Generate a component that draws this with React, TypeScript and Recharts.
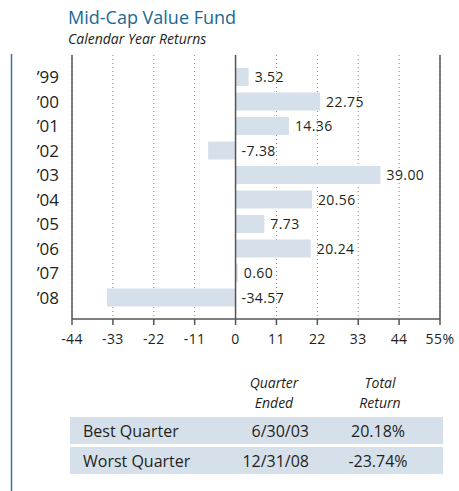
import React from 'react';
import { BarChart, Bar, XAxis, YAxis, CartesianGrid, ReferenceLine, LabelList } from 'recharts';

const years = ['’99', '’00', '’01', '’02', '’03', '’04', '’05', '’06', '’07', '’08'];
const returns = [3.52, 22.75, 14.36, -7.38, 39.0, 20.56, 7.73, 20.24, 0.6, -34.57];
const xTicks = [-44, -33, -22, -11, 0, 11, 22, 33, 44, 55];
const quarterLabels = ['Best Quarter', 'Worst Quarter'];
const quarterDates = ['6/30/03', '12/31/08'];
const quarterReturns = ['20.18%', '-23.74%'];

const data = years.map((y, i) => ({ year: y, value: returns[i] }));

const FONT = '"Open Sans", sans-serif';
const TEXT = '#231f20';
const BAR = '#d6e0ea';
const LINE = '#555555';

const ValueLabel = (props: any) => {
  const { x, y, width, height, value } = props;
  const right = Math.max(x, x + width);
  return (
    <text x={right + 6} y={y + height / 2 + 5} fontSize={14} letterSpacing={0.4} fill={TEXT} fontFamily={FONT}>
      {Number(value).toFixed(2)}
    </text>
  );
};

export default function App() {
  return (
    <div style={{ position: 'absolute', left: 0, top: 0, width: 459, height: 491, background: '#fff', fontFamily: FONT }}>
      <div style={{ position: 'absolute', left: 0, top: 0 }}>
        <BarChart
          width={459}
          height={360}
          data={data}
          layout="vertical"
          margin={{ top: 55, right: 19, left: 0, bottom: 0 }}
          barCategoryGap={0}
        >
          <CartesianGrid horizontal={false} vertical stroke="#888" strokeDasharray="1 3" />
          <XAxis
            type="number"
            dataKey="value"
            domain={[-44, 55]}
            ticks={xTicks}
            interval={0}
            tickFormatter={(v: number) => (v === 55 ? '55%' : String(v))}
            tick={{ fontSize: 14, fill: TEXT, fontFamily: FONT, letterSpacing: 0.4 }}
            tickSize={6}
            tickMargin={9}
            axisLine={{ stroke: LINE, strokeWidth: 1.5 }}
            tickLine={{ stroke: LINE, strokeWidth: 1.5 }}
            height={41}
            allowDataOverflow
          />
          <XAxis
            xAxisId="top"
            type="number"
            orientation="top"
            domain={[-44, 55]}
            tick={false}
            tickLine={false}
            axisLine={{ stroke: LINE, strokeWidth: 1.5 }}
            height={0}
          />
          <YAxis
            type="category"
            dataKey="year"
            width={72}
            tickLine={false}
            axisLine={{ stroke: LINE, strokeWidth: 1.5 }}
            tick={{ fontSize: 17, fill: TEXT, fontFamily: FONT }}
            tickMargin={7}
            padding={{ top: 10, bottom: 9 }}
            interval={0}
          />
          <ReferenceLine x={55} stroke={LINE} strokeWidth={1.5} />
          <ReferenceLine x={0} stroke={LINE} strokeWidth={1.5} />
          <Bar dataKey="value" fill={BAR} barSize={18} isAnimationActive={false}>
            <LabelList dataKey="value" content={ValueLabel} />
          </Bar>
        </BarChart>
      </div>
      <svg width={459} height={491} style={{ position: 'absolute', left: 0, top: 0, pointerEvents: 'none' }}>
        <line x1={11.5} y1={54} x2={11.5} y2={491} stroke="#3d6fa0" strokeWidth={1.5} />
        <text x={68} y={24} fontSize={18} fill="#1b6894" fontFamily={FONT}>Mid-Cap Value Fund</text>
        <text x={68} y={44} fontSize={14} fontStyle="italic" fill={TEXT} fontFamily={FONT}>Calendar Year Returns</text>
        <text x={274} y={388} fontSize={14} fontStyle="italic" fill={TEXT} fontFamily={FONT} textAnchor="middle">Quarter</text>
        <text x={274} y={408} fontSize={14} fontStyle="italic" fill={TEXT} fontFamily={FONT} textAnchor="middle">Ended</text>
        <text x={380} y={388} fontSize={14} fontStyle="italic" fill={TEXT} fontFamily={FONT} textAnchor="middle">Total</text>
        <text x={380} y={408} fontSize={14} fontStyle="italic" fill={TEXT} fontFamily={FONT} textAnchor="middle">Return</text>
        {quarterLabels.map((label, i) => {
          const top = 417 + i * 30;
          return (
            <g key={label}>
              <rect x={70} y={top} width={373} height={27} fill={BAR} />
              <text x={83} y={top + 20} fontSize={16} fill={TEXT} fontFamily={FONT}>{label}</text>
              <text x={309} y={top + 20} fontSize={16} fill={TEXT} fontFamily={FONT} textAnchor="end">{quarterDates[i]}</text>
              <text x={378} y={top + 20} fontSize={16} fill={TEXT} fontFamily={FONT} textAnchor="middle">{quarterReturns[i]}</text>
            </g>
          );
        })}
      </svg>
    </div>
  );
}
